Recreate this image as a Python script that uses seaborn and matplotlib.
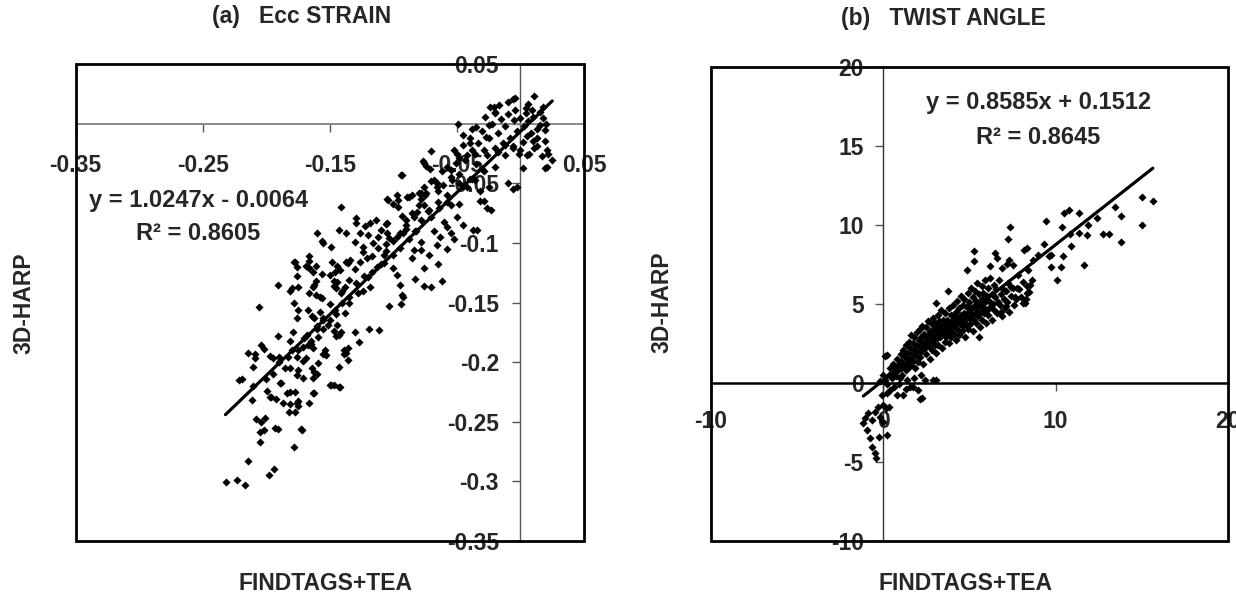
import matplotlib
matplotlib.use('Agg')
import matplotlib.pyplot as plt
from matplotlib.patches import Rectangle
from matplotlib.ticker import FixedLocator, FuncFormatter
import seaborn as sns
import pandas as pd

# ---- data ----
# (a) Ecc strain: FINDTAGS+TEA (x) vs 3D-HARP (y)
ecc_points = [
    (-0.232, -0.301), (-0.223, -0.299), (-0.217, -0.303), (-0.214, -0.283), (-0.198, -0.295), (-0.194, -0.290),
    (-0.178, -0.271), (-0.205, -0.267), (-0.205, -0.259), (-0.202, -0.257), (-0.193, -0.255), (-0.173, -0.256),
    (-0.208, -0.248), (-0.204, -0.250), (-0.201, -0.247), (-0.211, -0.232), (-0.199, -0.224), (-0.196, -0.229),
    (-0.192, -0.231), (-0.187, -0.234), (-0.184, -0.226), (-0.181, -0.225), (-0.177, -0.225), (-0.181, -0.235),
    (-0.182, -0.242), (-0.177, -0.242), (-0.175, -0.233), (-0.175, -0.237), (-0.166, -0.234), (-0.162, -0.226),
    (-0.149, -0.219), (-0.143, -0.221), (-0.189, -0.218), (-0.221, -0.215), (-0.219, -0.214), (-0.206, -0.154),
    (-0.191, -0.135), (-0.191, -0.178), (-0.214, -0.192), (-0.209, -0.193), (-0.209, -0.197), (-0.210, -0.204),
    (-0.204, -0.186), (-0.202, -0.189), (-0.197, -0.195), (-0.195, -0.197), (-0.190, -0.196), (-0.183, -0.196),
    (-0.181, -0.182), (-0.179, -0.175), (-0.176, -0.196), (-0.171, -0.199), (-0.169, -0.197), (-0.175, -0.207),
    (-0.181, -0.205), (-0.176, -0.211), (-0.171, -0.213), (-0.163, -0.213), (-0.160, -0.210), (-0.159, -0.201),
    (-0.164, -0.205), (-0.188, -0.218), (-0.197, -0.229), (-0.163, -0.226), (-0.176, -0.234), (-0.150, -0.219),
    (-0.143, -0.204), (-0.136, -0.198), (-0.139, -0.190), (-0.137, -0.192), (-0.154, -0.190), (-0.155, -0.193),
    (-0.167, -0.186), (-0.163, -0.188), (-0.171, -0.187), (-0.165, -0.182), (-0.168, -0.177), (-0.176, -0.163),
    (-0.175, -0.156), (-0.178, -0.150), (-0.181, -0.140), (-0.175, -0.137), (-0.176, -0.128), (-0.176, -0.120),
    (-0.177, -0.116), (-0.169, -0.119), (-0.166, -0.121), (-0.161, -0.119), (-0.166, -0.142), (-0.161, -0.144),
    (-0.156, -0.146), (-0.162, -0.135), (-0.161, -0.132), (-0.156, -0.126), (-0.150, -0.127), (-0.147, -0.132),
    (-0.147, -0.136), (-0.145, -0.138), (-0.141, -0.142), (-0.138, -0.137), (-0.148, -0.116), (-0.137, -0.116),
    (-0.167, -0.156), (-0.164, -0.161), (-0.158, -0.158), (-0.150, -0.151), (-0.146, -0.156), (-0.155, -0.165),
    (-0.151, -0.169), (-0.144, -0.169), (-0.141, -0.175), (-0.143, -0.177), (-0.147, -0.174), (-0.138, -0.159),
    (-0.093, -0.144), (-0.094, -0.151), (-0.103, -0.153), (-0.111, -0.173), (-0.119, -0.172), (-0.127, -0.183),
    (-0.130, -0.175), (-0.136, -0.188), (-0.139, -0.193), (-0.147, -0.219), (-0.142, -0.221), (-0.172, -0.257),
    (-0.191, -0.256), (-0.162, -0.208), (-0.153, -0.194), (-0.145, -0.178), (-0.159, -0.179), (-0.162, -0.163),
    (-0.093, -0.043), (-0.076, -0.033), (-0.141, -0.070), (-0.129, -0.079), (-0.129, -0.083), (-0.143, -0.089),
    (-0.137, -0.092), (-0.156, -0.098), (-0.155, -0.100), (-0.149, -0.103), (-0.166, -0.111), (-0.166, -0.115),
    (-0.178, -0.116), (-0.167, -0.120), (-0.163, -0.124), (-0.180, -0.138), (-0.163, -0.137), (-0.158, -0.145),
    (-0.144, -0.119), (-0.142, -0.123), (-0.136, -0.117), (-0.134, -0.114), (-0.130, -0.099), (-0.126, -0.092),
    (-0.122, -0.086), (-0.118, -0.083), (-0.114, -0.081), (-0.110, -0.089), (-0.112, -0.095), (-0.116, -0.100),
    (-0.124, -0.103), (-0.124, -0.108), (-0.121, -0.113), (-0.117, -0.111), (-0.126, -0.116), (-0.113, -0.120),
    (-0.107, -0.117), (-0.106, -0.107), (-0.106, -0.101), (-0.103, -0.096), (-0.105, -0.092), (-0.106, -0.084),
    (-0.097, -0.095), (-0.092, -0.092), (-0.090, -0.088), (-0.090, -0.081), (-0.093, -0.077), (-0.084, -0.078),
    (-0.078, -0.081), (-0.084, -0.106), (-0.085, -0.113), (-0.083, -0.130), (-0.076, -0.136), (-0.076, -0.121),
    (-0.095, -0.135), (-0.092, -0.145), (-0.097, -0.127), (-0.100, -0.121), (-0.135, -0.131), (-0.129, -0.134),
    (-0.124, -0.140), (-0.118, -0.137), (-0.144, -0.133), (-0.146, -0.124), (-0.088, -0.061), (-0.096, -0.064),
    (-0.097, -0.060), (-0.104, -0.064), (-0.100, -0.067), (-0.080, -0.058), (-0.078, -0.063), (-0.074, -0.058),
    (-0.076, -0.068), (-0.081, -0.074), (-0.073, -0.073), (-0.120, -0.093), (-0.160, -0.092),
    (-0.049, 0.000), (-0.045, -0.009), (-0.038, -0.004), (-0.040, -0.016), (-0.070, -0.023), (-0.052, -0.022),
    (-0.077, -0.031), (-0.074, -0.035), (-0.071, -0.038), (-0.094, -0.043), (-0.055, -0.039), (-0.051, -0.033),
    (-0.048, -0.029), (-0.042, -0.026), (-0.036, -0.025), (-0.029, -0.022), (-0.027, -0.011), (-0.025, -0.001),
    (-0.024, 0.014), (-0.066, -0.050), (-0.061, -0.051), (-0.054, -0.047), (-0.048, -0.050), (-0.042, -0.053),
    (-0.036, -0.047), (-0.032, -0.056), (-0.025, -0.053), (-0.105, -0.063), (-0.089, -0.061), (-0.078, -0.058),
    (-0.006, 0.021), (0.011, 0.023), (0.006, 0.017), (0.004, 0.013), (-0.020, 0.009), (0.018, 0.005),
    (0.015, -0.001), (0.019, -0.005), (0.013, -0.004), (0.010, -0.014), (0.019, -0.014), (0.013, -0.019),
    (0.021, -0.022), (0.017, -0.027), (0.025, -0.030), (0.019, -0.037), (0.002, -0.037), (0.005, -0.026),
    (0.007, -0.025), (0.000, -0.022), (-0.006, -0.019), (-0.006, -0.055), (-0.010, -0.050), (-0.032, -0.065),
    (-0.026, -0.071), (-0.048, -0.067), (-0.055, -0.068), (-0.037, -0.089), (-0.034, -0.089), (-0.058, -0.087),
    (-0.055, -0.092), (-0.063, -0.095), (-0.066, -0.102), (-0.078, -0.099), (-0.078, -0.106), (-0.105, -0.083),
    (-0.096, -0.070), (-0.085, -0.060), (-0.076, -0.053), (-0.068, -0.047), (-0.066, -0.053), (-0.004, 0.022),
    (-0.021, 0.014), (0.022, -0.025), (0.021, -0.036), (-0.003, -0.053), (-0.023, -0.072), (-0.029, -0.065),
    (-0.062, -0.132), (-0.070, -0.137), (-0.050, -0.078), (-0.045, -0.085), (-0.060, -0.082), (-0.068, -0.090),
    (-0.072, -0.110), (-0.065, -0.118), (-0.058, -0.105), (-0.052, -0.097),
    (-0.020, 0.010), (-0.015, 0.004), (-0.010, 0.008), (-0.012, -0.002), (-0.005, 0.003), (-0.003, -0.006),
    (0.000, 0.005), (0.003, -0.002), (0.006, 0.002), (0.008, -0.008), (-0.018, -0.008), (-0.022, 0.000),
    (-0.008, -0.012), (0.002, -0.015), (-0.014, -0.016), (-0.025, -0.012), (-0.030, -0.006), (-0.028, 0.006),
    (0.010, 0.006), (0.013, -0.012), (0.015, 0.010), (-0.004, 0.012), (-0.017, 0.016), (-0.010, 0.018),
    (0.004, 0.009), (-0.006, -0.020), (-0.020, -0.020), (-0.033, -0.016), (-0.012, -0.026), (-0.026, -0.026),
    (0.005, -0.010), (-0.001, -0.025), (0.009, 0.012), (0.018, 0.014), (0.020, 0.000), (0.011, -0.020),
    (-0.035, -0.003), (-0.040, -0.012), (-0.045, -0.018), (-0.038, -0.022), (-0.050, -0.025), (-0.044, -0.030),
    (-0.035, -0.034), (-0.029, -0.040), (-0.020, -0.036), (-0.058, -0.036), (-0.062, -0.040), (-0.055, -0.045),
    (-0.048, -0.042), (-0.040, -0.046), (-0.070, -0.048), (-0.065, -0.056), (-0.058, -0.060), (-0.075, -0.060),
    (-0.080, -0.068), (-0.072, -0.072), (-0.085, -0.075), (-0.065, -0.066), (-0.090, -0.085), (-0.083, -0.090),
    (-0.095, -0.092), (-0.100, -0.098), (-0.107, -0.110), (-0.112, -0.104), (-0.117, -0.124), (-0.123, -0.128),
    (-0.130, -0.122), (-0.128, -0.142), (-0.135, -0.150), (-0.140, -0.140), (-0.145, -0.160), (-0.150, -0.165),
    (-0.155, -0.172), (-0.160, -0.170), (-0.165, -0.185), (-0.170, -0.180), (-0.175, -0.190), (-0.185, -0.205),
    (-0.190, -0.200), (-0.120, -0.129), (-0.110, -0.118), (-0.100, -0.110), (-0.095, -0.104), (-0.088, -0.097),
    (-0.082, -0.090), (-0.070, -0.078), (-0.064, -0.071), (-0.058, -0.066), (-0.045, -0.052), (-0.038, -0.046),
    (-0.030, -0.038), (-0.018, -0.024), (-0.012, -0.018), (-0.140, -0.150), (-0.135, -0.145), (-0.155, -0.163),
    (-0.160, -0.172), (-0.180, -0.190), (-0.195, -0.210), (-0.200, -0.214), (-0.210, -0.220),
]

# (b) twist angle: FINDTAGS+TEA (x) vs 3D-HARP (y)
twist_points = [
    (10.49, 10.72), (10.80, 10.93), (11.36, 10.72), (12.39, 10.40), (9.42, 10.23), (7.35, 9.87), (7.26, 9.09),
    (10.39, 9.87), (10.84, 9.41), (11.36, 9.50), (11.80, 9.35), (11.90, 9.98), (10.90, 8.65), (9.33, 8.78),
    (8.32, 8.50), (8.17, 8.40), (9.72, 8.08), (9.60, 8.00), (10.45, 8.02), (9.74, 7.34), (10.30, 7.34),
    (11.65, 7.45), (10.06, 6.50), (5.28, 8.33), (5.28, 7.72), (4.88, 7.13), (6.48, 8.19), (6.58, 7.87),
    (6.19, 7.39), (7.30, 7.77), (7.20, 7.53), (7.55, 7.45), (6.87, 7.24), (7.84, 6.82), (8.65, 6.50),
    (8.42, 7.13), (8.32, 6.12), (8.70, 7.77), (9.00, 8.08), (7.78, 6.01), (7.41, 6.08), (8.32, 5.70),
    (8.13, 5.06), (7.13, 4.86), (3.74, 5.80), (3.06, 5.06),
    (15.00, 11.77), (15.64, 11.52), (15.00, 9.96), (13.81, 10.55), (13.81, 8.90), (13.47, 11.14),
    (12.75, 9.39), (13.12, 9.39),
    (0.10, 1.69), (2.90, 0.17), (2.42, 0.17), (2.03, -0.46), (2.13, -1.03), (1.55, -0.25), (1.16, -0.78),
    (0.78, -0.78), (0.39, -0.46), (0.19, -0.67), (-0.09, -0.78), (0.00, -1.41), (-0.33, -1.52), (0.16, -1.62),
    (-0.48, -1.84), (-0.19, -2.15), (-0.87, -1.94), (-1.06, -2.25), (-1.16, -2.57), (-0.67, -2.36),
    (-0.95, -3.00), (-0.79, -3.52), (-0.67, -4.05), (-0.48, -4.47), (-0.42, -4.78), (-0.26, -3.42),
    (0.20, -3.31), (-0.03, -2.47), (0.32, -1.52), (2.27, -0.99), (1.70, -0.25), (3.07, 0.17), (0.20, 1.75),
    (5.55, 2.91), (8.23, 5.02), (6.85, 4.49), (7.66, 5.44), (8.45, 5.76),
    (0.1, 0.2), (0.2, -0.1), (-0.2, 0.1), (0.0, 0.5), (0.6, -0.3), (0.9, -0.1), (1.3, -0.4), (1.8, 0.3),
    (1.4, 0.2), (2.2, 0.5),
    (0.3, 0.5), (0.4, 0.9), (0.5, 0.3), (0.55, 1.2), (0.6, 0.7), (0.7, 1.0), (0.75, 0.4), (0.8, 1.5),
    (0.85, 0.8), (0.9, 1.2), (0.95, 0.3), (1.0, 1.8), (1.0, 0.9), (1.05, 1.4), (1.1, 0.5), (1.15, 2.1),
    (1.2, 1.1), (1.25, 1.6), (1.3, 0.8), (1.3, 2.4), (1.35, 1.3), (1.4, 1.9), (1.45, 0.9), (1.5, 2.6),
    (1.5, 1.5), (1.55, 2.2), (1.6, 1.1), (1.6, 3.0), (1.65, 1.8), (1.7, 2.5), (1.75, 1.4), (1.8, 2.1),
    (1.8, 2.9), (1.85, 0.9), (1.9, 1.7), (1.9, 2.4), (1.95, 3.2), (2.0, 2.0), (2.0, 1.3), (2.05, 2.7),
    (2.1, 2.3), (2.1, 3.4), (2.15, 1.6), (2.2, 2.9), (2.2, 2.0), (2.25, 3.6), (2.3, 2.5), (2.3, 1.2),
    (2.35, 3.1), (2.4, 2.2), (2.45, 2.8), (2.5, 3.5), (2.5, 1.8), (2.55, 2.6), (2.6, 3.0), (2.6, 3.9),
    (2.65, 2.3), (2.7, 3.3), (2.7, 1.5), (2.75, 2.8), (2.8, 3.7), (2.8, 2.1), (2.85, 3.1), (2.9, 2.6),
    (2.9, 4.1), (2.95, 3.4), (3.0, 2.4), (3.0, 3.0), (3.0, 3.8), (3.05, 1.9), (3.1, 3.5), (3.1, 2.8),
    (3.15, 4.3), (3.2, 3.2), (3.2, 2.4), (3.25, 3.9), (3.3, 2.9), (3.3, 3.6), (3.35, 4.6), (3.4, 3.3),
    (3.4, 2.2), (3.45, 4.0), (3.5, 3.0), (3.5, 3.7), (3.55, 2.6), (3.6, 4.4), (3.6, 3.4), (3.65, 2.9),
    (3.7, 4.0), (3.7, 3.6), (3.75, 3.1), (3.8, 4.7), (3.8, 2.5), (3.85, 3.8), (3.9, 3.3), (3.9, 4.3),
    (3.95, 2.9), (4.0, 3.9), (4.0, 3.5), (4.05, 4.9), (4.1, 3.1), (4.1, 4.2), (4.15, 3.7), (4.2, 2.7),
    (4.2, 4.5), (4.25, 3.9), (4.3, 3.4), (4.3, 5.2), (4.35, 4.1), (4.4, 3.0), (4.4, 4.7), (4.45, 3.7),
    (4.5, 4.3), (4.5, 5.5), (4.55, 3.3), (4.6, 4.0), (4.6, 4.9), (4.65, 3.6), (4.7, 4.4), (4.7, 5.3),
    (4.75, 2.9), (4.8, 4.1), (4.8, 3.7), (4.85, 4.8), (4.9, 5.7), (4.9, 3.4), (4.95, 4.5), (5.0, 4.1),
    (5.0, 5.1), (5.05, 3.7), (5.1, 4.7), (5.1, 6.0), (5.15, 4.3), (5.2, 3.3), (5.2, 5.4), (5.25, 4.0),
    (5.3, 4.9), (5.3, 5.8), (5.35, 4.5), (5.4, 3.8), (5.4, 5.2), (5.45, 6.3), (5.5, 4.2), (5.5, 4.8),
    (5.55, 5.6), (5.6, 3.5), (5.6, 5.0), (5.65, 4.5), (5.7, 6.1), (5.7, 5.3), (5.75, 4.0), (5.8, 4.8),
    (5.8, 5.7), (5.85, 4.4), (5.9, 6.5), (5.9, 5.1), (5.95, 3.8), (6.0, 4.6), (6.0, 5.5), (6.05, 6.0),
    (6.1, 4.3), (6.15, 5.2), (6.2, 6.6), (6.2, 4.8), (6.3, 5.6), (6.3, 4.0), (6.35, 5.0), (6.4, 6.2),
    (6.45, 4.6), (6.5, 5.4), (6.55, 5.9), (6.6, 4.4), (6.65, 5.1), (6.7, 6.5), (6.75, 4.9), (6.8, 5.6),
    (6.9, 4.2), (6.9, 6.0), (7.0, 5.3), (7.05, 4.7), (7.1, 5.8), (7.2, 5.1), (7.25, 6.3), (7.3, 4.5),
    (7.4, 5.5), (7.5, 6.0), (7.6, 4.9), (7.7, 5.3), (7.9, 5.9), (8.0, 5.4), (8.1, 6.4), (8.3, 5.3), (8.5, 6.2),
]

# trendline coefficients printed on the chart
ecc_fit = (1.0247, -0.0064, 0.8605)
twist_fit = (0.8585, 0.1512, 0.8645)

ecc_xticks = [-0.35, -0.25, -0.15, -0.05, 0.05]
ecc_yticks = [0.05, 0.0, -0.05, -0.1, -0.15, -0.2, -0.25, -0.3, -0.35]
twist_xticks = [-10, 0, 10, 20]
twist_yticks = [20, 15, 10, 5, 0, -5, -10]

titles = ['(a)   Ecc STRAIN', '(b)   TWIST ANGLE']
xlabel = 'FINDTAGS+TEA'
ylabel = '3D-HARP'

sns.set_theme(style='white')
plt.rcParams['font.family'] = ['Liberation Sans', 'DejaVu Sans']
plt.rcParams['font.weight'] = 'bold'
FS = 16.5

W, H = 1236, 594
fig = plt.figure(figsize=(W / 100, H / 100), dpi=100)


def fx(px):
    return px / W


def fy(py):
    return 1 - py / H


def setup(ax, xlim, ylim, xticks, yticks, xpad, ypad, hide_zero, hcolor, vcolor, hlw, vlw):
    ax.set_xlim(*xlim)
    ax.set_ylim(*ylim)
    for s in ['top', 'right']:
        ax.spines[s].set_visible(False)
    ax.spines['left'].set_position(('data', 0))
    ax.spines['bottom'].set_position(('data', 0))
    ax.spines['bottom'].set_color(hcolor)
    ax.spines['bottom'].set_linewidth(hlw)
    ax.spines['left'].set_color(vcolor)
    ax.spines['left'].set_linewidth(vlw)
    ax.xaxis.set_major_locator(FixedLocator(xticks))
    ax.yaxis.set_major_locator(FixedLocator(yticks))
    fmt_x = FuncFormatter(lambda v, p: '%g' % round(v, 4))
    fmt_y = FuncFormatter(lambda v, p: '' if (hide_zero and abs(v) < 1e-9) else '%g' % round(v, 4))
    ax.xaxis.set_major_formatter(fmt_x)
    ax.yaxis.set_major_formatter(fmt_y)
    ax.tick_params(axis='x', direction='out', length=5.5, width=1, color='#555555',
                   pad=xpad, labelsize=FS, bottom=True)
    ax.tick_params(axis='y', direction='out', length=5.5, width=1, color='#555555',
                   pad=ypad, labelsize=FS, left=True)
    for lab in ax.get_xticklabels() + ax.get_yticklabels():
        lab.set_fontweight('bold')
    ax.set_xlabel('')
    ax.set_ylabel('')
    ax.add_patch(Rectangle((0, 0), 1, 1, transform=ax.transAxes, fill=False,
                           edgecolor='black', lw=2, clip_on=False, zorder=5))
    ax.grid(False)


def panel(ax, points, fit):
    df = pd.DataFrame(points, columns=['findtags', 'harp'])
    sns.scatterplot(data=df, x='findtags', y='harp', marker='D', s=17, color='black',
                    linewidth=0, ax=ax, zorder=4, clip_on=False)
    slope, icpt, _ = fit
    line = pd.DataFrame({'findtags': [df['findtags'].min(), df['findtags'].max()]})
    line['harp'] = slope * line['findtags'] + icpt
    sns.lineplot(data=line, x='findtags', y='harp', color='black', lw=2.3, ax=ax, zorder=4)


# (a)
ax1 = fig.add_axes([fx(75.5), fy(540.7), fx(584) - fx(75.5), fy(64.3) - fy(540.7)])
panel(ax1, ecc_points, ecc_fit)
setup(ax1, (-0.35, 0.05), (-0.35, 0.05), ecc_xticks, ecc_yticks, 16.5, 10, True,
      '#808080', '#555555', 1.3, 1.0)

# (b)
ax2 = fig.add_axes([fx(711), fy(540.7), fx(1228) - fx(711), fy(66.7) - fy(540.7)])
panel(ax2, twist_points, twist_fit)
setup(ax2, (-10, 20), (-10, 20), twist_xticks, twist_yticks, 14, 8.6, False,
      'black', '#333333', 1.8, 1.0)

# titles and axis labels
fig.text(fx(302), fy(17), titles[0], ha='center', va='center', fontsize=FS, fontweight='bold')
fig.text(fx(943), fy(18), titles[1], ha='center', va='center', fontsize=FS, fontweight='bold')
fig.text(fx(24), fy(303), ylabel, rotation=90, ha='center', va='center', fontsize=FS, fontweight='bold')
fig.text(fx(662), fy(302), ylabel, rotation=90, ha='center', va='center', fontsize=FS, fontweight='bold')
fig.text(fx(326), fy(583), xlabel, ha='center', va='center', fontsize=FS, fontweight='bold')
fig.text(fx(966), fy(583), xlabel, ha='center', va='center', fontsize=FS, fontweight='bold')

# trendline equations
fig.text(fx(199), fy(200), 'y = %.4fx - %.4f' % (ecc_fit[0], -ecc_fit[1]), ha='center', va='center',
         fontsize=FS + 0.5, fontweight='bold')
fig.text(fx(198), fy(233), 'R² = %.4f' % ecc_fit[2], ha='center', va='center',
         fontsize=FS + 0.5, fontweight='bold')
fig.text(fx(1039), fy(103), 'y = %.4fx + %.4f' % (twist_fit[0], twist_fit[1]), ha='center', va='center',
         fontsize=FS + 0.5, fontweight='bold')
fig.text(fx(1038), fy(137), 'R² = %.4f' % twist_fit[2], ha='center', va='center',
         fontsize=FS + 0.5, fontweight='bold')

fig.savefig('out.png', dpi=100, facecolor='white')
